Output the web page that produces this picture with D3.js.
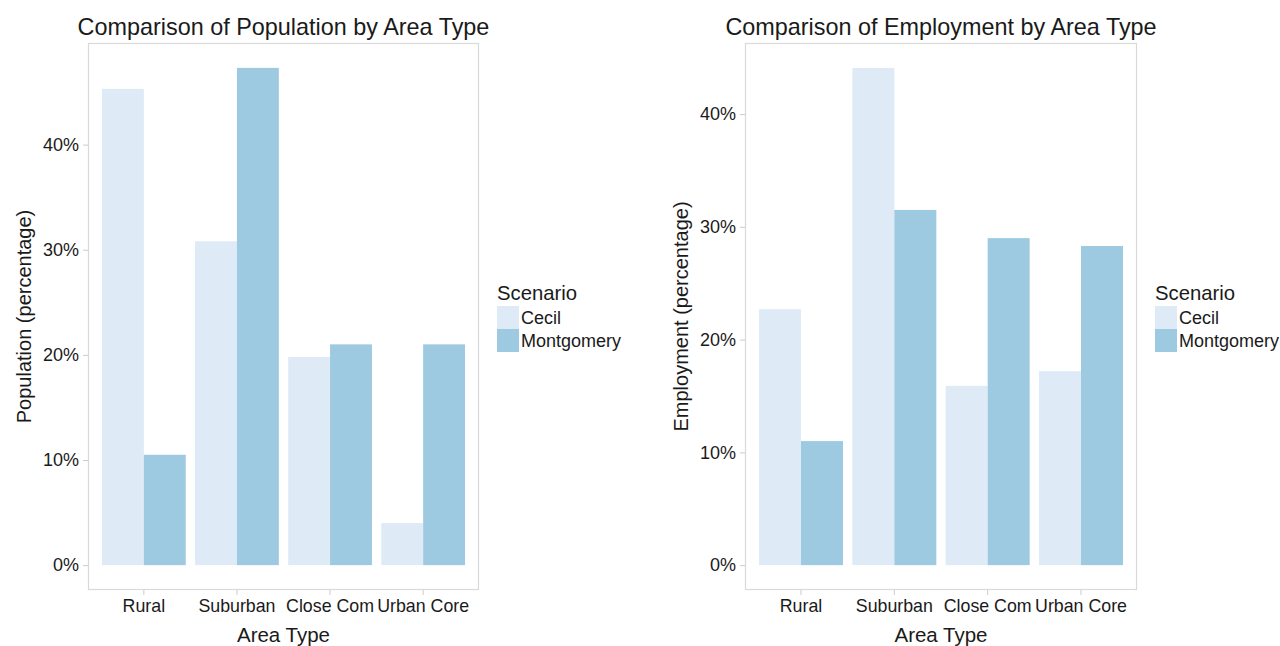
<!DOCTYPE html>
<html>
<head>
<meta charset="utf-8">
<script src="https://d3js.org/d3.v7.min.js"></script>
<style>
  body { margin: 0; background: #fff; }
  svg text { font-family: "Liberation Sans", Arial, sans-serif; fill: #1a1a1a; }
</style>
</head>
<body>
<svg id="chart"></svg>
<script>
var screen = {width: 1280, height: 646};

// data
var areaTypes = ["Rural", "Suburban", "Close Com", "Urban Core"];
var scenarios = ["Cecil", "Montgomery"];
var scenarioColors = ["#deebf7", "#9ecae1"];
var yTicks = [0, 10, 20, 30, 40];

var populationCecil = [45.3, 30.8, 19.8, 4.0];
var populationMontgomery = [10.5, 47.3, 21.0, 21.0];

var employmentCecil = [22.7, 44.1, 15.9, 17.2];
var employmentMontgomery = [11.0, 31.5, 29.0, 28.3];

var svg = d3.select("#chart")
    .attr("width", screen.width)
    .attr("height", screen.height);

var colorScale = d3.scaleOrdinal()
    .domain(scenarios)
    .range(scenarioColors);

var drawPanel = function(p)
{
    var width = p.right - p.left;
    var height = p.bottom - p.top;

    var rows = areaTypes.map(function(a, i) {
        return {area: a, values: [
            {scenario: scenarios[0], value: p.cecil[i]},
            {scenario: scenarios[1], value: p.montgomery[i]}
        ]};
    });

    var maxVal = d3.max(p.cecil.concat(p.montgomery));
    var pad = maxVal * 0.05;

    var xScale = d3.scaleBand()
        .domain(areaTypes)
        .range([0, width])
        .paddingInner(0.1)
        .paddingOuter(0.15);

    var subScale = d3.scaleBand()
        .domain(scenarios)
        .range([0, xScale.bandwidth()]);

    var yScale = d3.scaleLinear()
        .domain([-pad, maxVal + pad])
        .range([height, 0]);

    var g = svg.append("g")
        .attr("transform", "translate(" + p.left + "," + p.top + ")");

    // bars
    g.selectAll(".group")
        .data(rows)
        .enter()
        .append("g")
        .attr("transform", function(d) { return "translate(" + xScale(d.area) + ",0)"; })
        .selectAll("rect")
        .data(function(d) { return d.values; })
        .enter()
        .append("rect")
        .attr("x", function(d) { return subScale(d.scenario); })
        .attr("width", subScale.bandwidth())
        .attr("y", function(d) { return yScale(d.value); })
        .attr("height", function(d) { return yScale(0) - yScale(d.value); })
        .attr("fill", function(d) { return colorScale(d.scenario); });

    // panel border
    g.append("rect")
        .attr("x", 0.5)
        .attr("y", 0.5)
        .attr("width", width - 1)
        .attr("height", height - 1)
        .attr("fill", "none")
        .attr("stroke", "#d9d9d9")
        .attr("stroke-width", 1.2);

    var yAxis = d3.axisLeft(yScale)
        .tickValues(yTicks)
        .tickSize(5)
        .tickPadding(4)
        .tickFormat(function(d) { return d + "%"; });

    var yg = g.append("g").call(yAxis);
    yg.select(".domain").remove();
    yg.selectAll("line").attr("stroke", "#cccccc");
    yg.selectAll("text")
        .style("font-size", "18px")
        .attr("fill", "#1a1a1a");

    var xAxis = d3.axisBottom(xScale)
        .tickSize(5)
        .tickPadding(4);

    var xg = g.append("g")
        .attr("transform", "translate(0," + height + ")")
        .call(xAxis);
    xg.select(".domain").remove();
    xg.selectAll("line").attr("stroke", "#cccccc");
    xg.selectAll("text")
        .style("font-size", "17.8px")
        .attr("fill", "#1a1a1a");

    // titles
    svg.append("text")
        .attr("x", p.left + width / 2)
        .attr("y", 35)
        .attr("text-anchor", "middle")
        .style("font-size", "23.4px")
        .text(p.title);

    svg.append("text")
        .attr("x", p.left + width / 2)
        .attr("y", 642)
        .attr("text-anchor", "middle")
        .style("font-size", "20.5px")
        .text("Area Type");

    svg.append("text")
        .attr("transform", "translate(" + (p.left - 57) + "," + (p.top + height / 2) + ") rotate(-90)")
        .attr("text-anchor", "middle")
        .style("font-size", "20px")
        .text(p.yTitle);

    // legend
    var lg = svg.append("g")
        .attr("transform", "translate(" + p.legendX + ",0)");

    lg.append("text")
        .attr("x", 0)
        .attr("y", 300)
        .style("font-size", "20.3px")
        .text("Scenario");

    scenarios.forEach(function(s, i) {
        lg.append("rect")
            .attr("x", 0)
            .attr("y", 306 + i * 23)
            .attr("width", 22)
            .attr("height", 23)
            .attr("fill", colorScale(s));
        lg.append("text")
            .attr("x", 24)
            .attr("y", 306 + i * 23 + 11.5)
            .attr("dy", "0.35em")
            .style("font-size", "18px")
            .text(s);
    });
}

drawPanel({
    left: 88, right: 479, top: 43, bottom: 590,
    cecil: populationCecil, montgomery: populationMontgomery,
    title: "Comparison of Population by Area Type",
    yTitle: "Population (percentage)",
    legendX: 497
});

drawPanel({
    left: 745, right: 1137, top: 43, bottom: 590,
    cecil: employmentCecil, montgomery: employmentMontgomery,
    title: "Comparison of Employment by Area Type",
    yTitle: "Employment (percentage)",
    legendX: 1155
});
</script>
</body>
</html>
